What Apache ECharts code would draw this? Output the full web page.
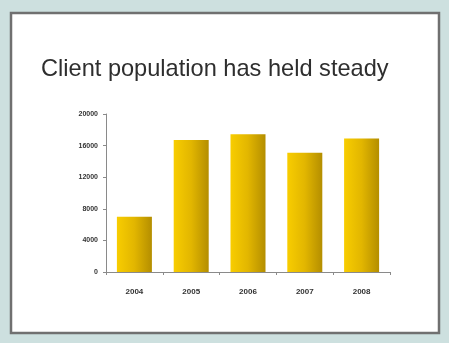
<!DOCTYPE html>
<html>
<head>
<meta charset="utf-8">
<script src="https://cdn.jsdelivr.net/npm/echarts@6/dist/echarts.min.js"></script>
<style>
  html, body { margin: 0; padding: 0; background: #cde0df; }
  #main { width: 449px; height: 343px; }
</style>
</head>
<body>
<div id="main"></div>
<script>
const years = ['2004', '2005', '2006', '2007', '2008']
const clients = [7000, 16700, 17450, 15100, 16900]
const yTicks = [0, 4000, 8000, 12000, 16000, 20000]

const chart = echarts.init(document.getElementById('main'))

chart.setOption({
  backgroundColor: '#cde0df',
  animation: false,
  graphic: [
    // white slide panel with grey frame
    {
      type: 'rect',
      z: -10,
      shape: {x: 11, y: 13, width: 428, height: 320},
      style: {fill: '#ffffff', stroke: '#707070', lineWidth: 2.5}
    }
  ],
  title: {
    text: 'Client population has held steady',
    left: 36,
    top: 52,
    textStyle: {
      fontFamily: 'Liberation Sans, Arial, sans-serif',
      fontSize: 23.6,
      fontWeight: 'normal',
      color: '#2e2e2e'
    }
  },
  grid: {
    left: 106,
    top: 114,
    width: 284,
    height: 158
  },
  xAxis: {
    type: 'category',
    data: years,
    axisLine: {lineStyle: {color: '#8a8a8a', width: 1}},
    axisTick: {show: true, length: 3, lineStyle: {color: '#8a8a8a'}},
    axisLabel: {
      margin: 16,
      fontSize: 8,
      fontWeight: 'bold',
      color: '#333',
      fontFamily: 'Liberation Sans, Arial, sans-serif'
    }
  },
  yAxis: {
    type: 'value',
    min: yTicks[0],
    max: yTicks[yTicks.length - 1],
    interval: 4000,
    axisLine: {show: true, lineStyle: {color: '#8a8a8a', width: 1}},
    axisTick: {show: true, length: 3, lineStyle: {color: '#8a8a8a'}},
    splitLine: {show: false},
    axisLabel: {
      margin: 8,
      fontSize: 7,
      fontWeight: 'bold',
      color: '#333',
      fontFamily: 'Liberation Sans, Arial, sans-serif',
      formatter: (v) => String(v)
    }
  },
  series: [
    {
      type: 'bar',
      data: clients,
      barWidth: 35,
      itemStyle: {
        color: new echarts.graphic.LinearGradient(0, 0, 1, 0, [
          {offset: 0, color: '#f8cd00'},
          {offset: 0.5, color: '#e2b600'},
          {offset: 1, color: '#b48e00'}
        ])
      }
    }
  ]
})
</script>
</body>
</html>
